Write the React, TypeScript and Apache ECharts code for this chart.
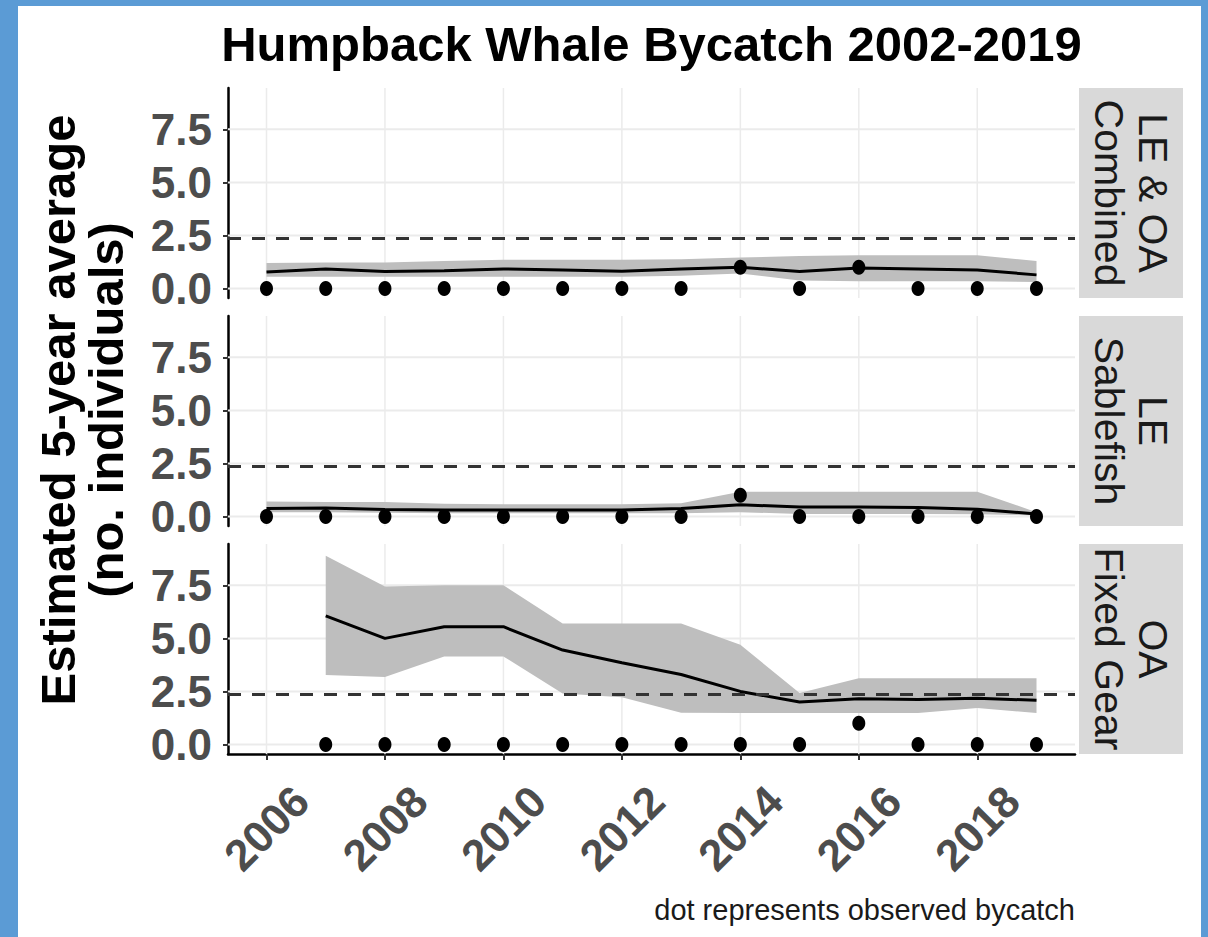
import React, { useEffect, useRef } from "react";
import * as echarts from "echarts";

// ---------- data ----------
const years = [2006, 2007, 2008, 2009, 2010, 2011, 2012, 2013, 2014, 2015, 2016, 2017, 2018, 2019];
const oaYears = [2007, 2008, 2009, 2010, 2011, 2012, 2013, 2014, 2015, 2016, 2017, 2018, 2019];

const combMean = [0.77, 0.92, 0.8, 0.84, 0.92, 0.87, 0.81, 0.92, 1.0, 0.8, 0.97, 0.92, 0.87, 0.64];
const combUpper = [1.2, 1.22, 1.22, 1.3, 1.35, 1.35, 1.35, 1.38, 1.46, 1.53, 1.56, 1.56, 1.56, 1.3];
const combLower = [0.55, 0.55, 0.55, 0.55, 0.55, 0.55, 0.55, 0.6, 0.7, 0.38, 0.34, 0.34, 0.34, 0.3];
const combObs = [0, 0, 0, 0, 0, 0, 0, 0, 1, 0, 1, 0, 0, 0];

const sabMean = [0.37, 0.4, 0.33, 0.3, 0.3, 0.3, 0.3, 0.37, 0.55, 0.45, 0.45, 0.42, 0.34, 0.12];
const sabUpper = [0.7, 0.68, 0.68, 0.6, 0.58, 0.58, 0.58, 0.62, 1.17, 1.17, 1.17, 1.17, 1.17, 0.2];
const sabLower = [0.2, 0.2, 0.18, 0.15, 0.15, 0.15, 0.15, 0.15, 0.2, 0.12, 0.12, 0.12, 0.1, 0.05];
const sabObs = [0, 0, 0, 0, 0, 0, 0, 0, 1, 0, 0, 0, 0, 0];

const oaMean = [6.06, 5.0, 5.55, 5.55, 4.45, 3.85, 3.3, 2.5, 2.0, 2.15, 2.12, 2.18, 2.08];
const oaUpper = [8.9, 7.45, 7.5, 7.5, 5.7, 5.7, 5.7, 4.7, 2.42, 3.12, 3.12, 3.12, 3.12];
const oaLower = [3.28, 3.18, 4.15, 4.15, 2.4, 2.22, 1.5, 1.48, 1.48, 1.48, 1.48, 1.72, 1.48];
const oaObs = [0, 0, 0, 0, 0, 0, 0, 0, 0, 1, 0, 0, 0];

const threshold = 2.35;
const xTicks = [2006, 2008, 2010, 2012, 2014, 2016, 2018];
const yTicks = [0, 2.5, 5, 7.5];
const stripLabels = ["LE & OA\nCombined", "LE\nSablefish", "OA\nFixed Gear"];

const X_MIN = 2005.35;
const X_MAX = 2019.65;
const Y_MIN = -0.45;
const Y_MAX = 9.45;

const FONT = "'Liberation Sans', Arial, Helvetica, sans-serif";

const panels = [
  { yrs: years, mean: combMean, upper: combUpper, lower: combLower, obs: combObs },
  { yrs: years, mean: sabMean, upper: sabUpper, lower: sabLower, obs: sabObs },
  { yrs: oaYears, mean: oaMean, upper: oaUpper, lower: oaLower, obs: oaObs },
];

// ---------- layout ----------
const GRID_LEFT = 210;
const GRID_W = 847;
const GRID_TOPS = [82, 310, 538];
const GRID_H = 210;

export default function App() {
  const ref = useRef<HTMLDivElement>(null);

  useEffect(() => {
    if (!ref.current) return;
    const chart = echarts.init(ref.current, undefined, { renderer: "svg" });

    const grid = GRID_TOPS.map((t) => ({ left: GRID_LEFT, top: t, width: GRID_W, height: GRID_H }));

    const xAxis = panels.map((_, i) => ({
      type: "value",
      gridIndex: i,
      min: X_MIN,
      max: X_MAX,
      axisLine: { show: i === 2, onZero: false, lineStyle: { color: "#000", width: 2.5 } },
      axisTick: { show: i === 2, customValues: xTicks, length: 6, lineStyle: { color: "#333", width: 2 } },
      axisLabel: {
        show: i === 2,
        customValues: xTicks,
        rotate: 45,
        align: "center",
        verticalAlign: "middle",
        margin: 74,
        fontSize: 44,
        fontWeight: "bold",
        color: "#4d4d4d",
        fontFamily: FONT,
        formatter: (v: number) => String(Math.round(v)),
      },
      splitLine: { show: false },
    }));

    const yAxis = panels.map((_, i) => ({
      type: "value",
      gridIndex: i,
      min: Y_MIN,
      max: Y_MAX,
      axisLine: { show: true, onZero: false, lineStyle: { color: "#000", width: 2.5 } },
      axisTick: { show: true, customValues: yTicks, length: 5, lineStyle: { color: "#333", width: 2 } },
      axisLabel: {
        customValues: yTicks,
        margin: 16,
        fontSize: 44,
        fontWeight: "bold",
        color: "#4d4d4d",
        fontFamily: FONT,
        formatter: (v: number) => v.toFixed(1),
      },
      splitLine: { show: false },
    }));

    const series: any[] = [];
    panels.forEach((p, i) => {
      const base = { xAxisIndex: i, yAxisIndex: i, silent: true, animation: false };
      xTicks.forEach((t) => {
        series.push({
          ...base,
          type: "line",
          data: [[t, Y_MIN], [t, Y_MAX]],
          symbol: "none",
          lineStyle: { color: "#ebebeb", width: 1.5 },
          z: 1,
        });
      });
      yTicks.forEach((v) => {
        series.push({
          ...base,
          type: "line",
          data: [[X_MIN, v], [X_MAX, v]],
          symbol: "none",
          lineStyle: { color: "#ebebeb", width: 2 },
          z: 1,
        });
      });
      const bandData = p.yrs.map((y, k) => [y, p.lower[k], p.upper[k]]);
      series.push({
        ...base,
        type: "custom",
        coordinateSystem: "cartesian2d",
        data: bandData,
        encode: { x: 0, y: [1, 2] },
        renderItem: (params: any, api: any) => {
          if (params.dataIndex !== 0) return null;
          const top = bandData.map((d) => api.coord([d[0], d[2]]));
          const bottom = bandData
            .slice()
            .reverse()
            .map((d) => api.coord([d[0], d[1]]));
          return {
            type: "polygon",
            shape: { points: top.concat(bottom) },
            style: { fill: "#bebebe", stroke: "none" },
          };
        },
        z: 2,
      });
      series.push({
        ...base,
        type: "line",
        data: p.yrs.map((y, k) => [y, p.mean[k]]),
        symbol: "none",
        lineStyle: { color: "#000", width: 3 },
        z: 3,
      });
      series.push({
        ...base,
        type: "line",
        data: [[X_MIN, threshold], [X_MAX, threshold]],
        symbol: "none",
        lineStyle: { color: "#333", width: 3, type: [13, 11] },
        z: 4,
      });
      series.push({
        ...base,
        type: "scatter",
        data: p.yrs.map((y, k) => [y, p.obs[k]]),
        symbol: "circle",
        symbolSize: [13, 15],
        itemStyle: { color: "#000", opacity: 1 },
        z: 5,
      });
    });

    const graphic: any[] = [
      {
        type: "text",
        x: GRID_LEFT + GRID_W / 2,
        y: 38,
        style: {
          text: "Humpback Whale Bycatch 2002-2019",
          font: `bold 49px ${FONT}`,
          fill: "#000",
          textAlign: "center",
          textVerticalAlign: "middle",
        },
      },
      {
        type: "text",
        x: 64,
        y: 404,
        rotation: Math.PI / 2,
        style: {
          text: "Estimated 5-year average\n(no. individuals)",
          font: `bold 49px ${FONT}`,
          fill: "#000",
          textAlign: "center",
          textVerticalAlign: "middle",
          lineHeight: 48,
        },
      },
      {
        type: "text",
        x: 1057,
        y: 904,
        style: {
          text: "dot represents observed bycatch",
          font: `29px ${FONT}`,
          fill: "#1a1a1a",
          textAlign: "right",
          textVerticalAlign: "middle",
        },
      },
    ];
    GRID_TOPS.forEach((t, i) => {
      graphic.push({
        type: "rect",
        shape: { x: 1061, y: t, width: 104, height: GRID_H },
        style: { fill: "#d9d9d9" },
      });
      graphic.push({
        type: "text",
        x: 1113,
        y: t + GRID_H / 2,
        rotation: -Math.PI / 2,
        style: {
          text: stripLabels[i],
          font: `41px ${FONT}`,
          fill: "#1a1a1a",
          textAlign: "center",
          textVerticalAlign: "middle",
          lineHeight: 44,
        },
      });
    });

    chart.setOption({
      animation: false,
      backgroundColor: "#ffffff",
      grid,
      xAxis,
      yAxis,
      series,
      graphic,
    });

    return () => chart.dispose();
  }, []);

  return (
    <div
      style={{
        position: "fixed",
        left: 0,
        top: 0,
        width: 1208,
        height: 937,
        background: "#5b9bd5",
      }}
    >
      <div ref={ref} style={{ position: "absolute", left: 18, top: 6, width: 1183, height: 931 }} />
    </div>
  );
}
